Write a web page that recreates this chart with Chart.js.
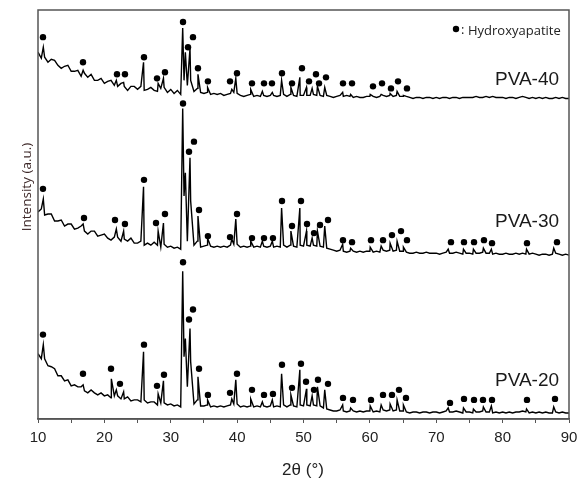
<!DOCTYPE html>
<html>
<head>
<meta charset="utf-8">
<script src="https://cdn.jsdelivr.net/npm/chart.js@4.4.1/dist/chart.umd.min.js"></script>
<style>
  html, body { margin: 0; padding: 0; background: #fff; }
  #wrap { width: 578px; height: 479px; position: relative; }
</style>
</head>
<body>
<div id="wrap"><canvas id="xrd"></canvas></div>
<script>
// XRD patterns, intensity in a.u. (patterns already stacked with offsets)
const baseTheta = [
  10, 10.5, 11, 11.5, 12, 12.5, 13, 13.5, 14, 14.5,
  15, 15.5, 16, 16.5, 17, 17.5, 18, 18.5, 19, 19.5,
  20, 20.5, 21, 21.5, 22, 22.5, 23, 23.5, 24, 24.5,
  25, 25.5, 26, 26.5, 27, 27.5, 28, 28.5, 29, 29.5,
  30, 30.5, 31, 31.5, 32, 32.5, 33, 33.5, 34, 34.5,
  35, 35.5, 36, 36.5, 37, 37.5, 38, 38.5, 39, 39.5,
  40, 40.5, 41, 41.5, 42, 42.5, 43, 43.5, 44, 44.5,
  45, 45.5, 46, 46.5, 47, 47.5, 48, 48.5, 49, 49.5,
  50, 50.5, 51, 51.5, 52, 52.5, 53, 53.5, 54, 54.5,
  55, 55.5, 56, 56.5, 57, 57.5, 58, 58.5, 59, 59.5,
  60, 60.5, 61, 61.5, 62, 62.5, 63, 63.5, 64, 64.5,
  65, 65.5, 66, 66.5, 67, 67.5, 68, 68.5, 69, 69.5,
  70, 70.5, 71, 71.5, 72, 72.5, 73, 73.5, 74, 74.5,
  75, 75.5, 76, 76.5, 77, 77.5, 78, 78.5, 79, 79.5,
  80, 80.5, 81, 81.5, 82, 82.5, 83, 83.5, 84, 84.5,
  85, 85.5, 86, 86.5, 87, 87.5, 88, 88.5, 89, 89.5,
  90
];

const base40 = [
  365, 359, 360, 355, 358, 357, 352, 349, 351, 352,
  346, 346, 347, 341, 344, 340, 343, 337, 337, 339,
  334, 336, 337, 332, 331, 334, 331, 327, 331, 331,
  328, 331, 327, 328, 330, 327, 326, 329, 330, 325,
  328, 324, 327, 323, 337, 332, 337, 326, 329, 325,
  324, 325, 323, 324, 323, 324, 322, 323, 324, 325,
  324, 322, 321, 322, 323, 321, 322, 321, 322, 321,
  322, 322, 321, 322, 323, 321, 323, 322, 321, 322,
  322, 322, 322, 323, 322, 322, 321, 322, 321, 320,
  321, 322, 321, 322, 321, 320, 321, 320, 320, 321,
  321, 321, 320, 321, 322, 321, 322, 321, 322, 321,
  321, 321, 320, 319, 320, 320, 319, 320, 320, 319,
  320, 319, 320, 320, 319, 320, 320, 319, 320, 320,
  320, 320, 321, 320, 320, 321, 320, 321, 320, 320,
  320, 319, 320, 320, 319, 320, 321, 320, 319, 320,
  319, 320, 319, 320, 319, 319, 320, 319, 320, 319,
  319
];

const base30 = [
  206, 209, 203, 204, 204, 197, 197, 198, 192, 194,
  194, 189, 190, 192, 187, 184, 187, 187, 182, 183,
  184, 180, 178, 181, 181, 177, 179, 177, 180, 175,
  175, 177, 173, 175, 173, 176, 173, 171, 174, 171,
  172, 170, 171, 169, 222, 177, 217, 173, 177, 171,
  172, 173, 172, 171, 172, 171, 172, 171, 173, 174,
  174, 171, 172, 171, 172, 171, 172, 171, 172, 171,
  172, 171, 172, 171, 173, 171, 173, 172, 171, 173,
  172, 173, 172, 173, 172, 172, 171, 170, 169, 168,
  167, 168, 167, 166, 167, 167, 166, 167, 166, 167,
  167, 166, 167, 166, 168, 167, 168, 167, 168, 167,
  167, 166, 165, 165, 166, 165, 165, 166, 165, 165,
  165, 164, 165, 166, 165, 165, 166, 165, 164, 165,
  165, 164, 165, 165, 166, 165, 165, 164, 165, 164,
  164, 165, 164, 164, 165, 164, 165, 164, 164, 165,
  164, 163, 164, 164, 163, 164, 165, 164, 163, 164,
  163
];

const base20 = [
  65, 60, 60, 53, 52, 50, 43, 43, 38, 39,
  33, 34, 32, 32, 28, 26, 29, 26, 24, 26,
  23, 24, 21, 23, 23, 20, 20, 22, 18, 19,
  19, 17, 19, 16, 17, 17, 14, 16, 16, 14,
  15, 13, 14, 12, 62, 32, 57, 15, 19, 13,
  13, 14, 12, 13, 12, 13, 12, 13, 14, 15,
  15, 12, 13, 12, 13, 12, 13, 12, 13, 12,
  13, 12, 13, 12, 14, 12, 14, 13, 12, 14,
  13, 14, 13, 14, 13, 13, 11, 10, 9, 8,
  8, 9, 8, 7, 8, 8, 7, 8, 7, 8,
  8, 7, 8, 7, 9, 8, 9, 8, 9, 8,
  8, 7, 6, 7, 7, 6, 7, 7, 6, 7,
  7, 6, 7, 8, 7, 7, 8, 7, 6, 7,
  7, 6, 7, 7, 8, 7, 7, 6, 7, 6,
  7, 6, 7, 6, 7, 7, 8, 7, 6, 7,
  6, 7, 6, 7, 6, 6, 7, 6, 7, 6,
  6
];

// diffraction peak tops (null = no peak in that sample)
const peakTheta = [10.8, 16.8, 21.05, 21.8, 22.9, 25.9, 28.1, 28.9, 31.8, 32.2, 32.9, 34.1, 35.55,
  39.2, 39.8, 42.05, 43.8, 45.3, 46.7, 48.1, 49.45, 50.45, 51.3, 52.1, 53.2, 55.9, 57.1, 60.05,
  61.7, 63.05, 64.1, 65.05, 71.8, 74.1, 75.6, 77.1, 78.3, 83.6, 87.7];
const peak40 = [370, 347, null, 337, 335, 355, 334, 339, 389, 365, 369, 343, 330,
  328, 339, 328, 326, 325, 337, 330, 340, 330, 329, 331, 330, 325, 323, 323,
  323, 324, 326, 322, null, null, null, null, null, null, null];
const peak30 = [219, 194, null, 189, 187, 231, 187, 195, 309, 245, 260, 202, 180,
  179, 199, 177, 177, 177, 210, 187, 210, 187, 180, 187, 192, 174, 170, 171,
  172, 175, 177, 171, 169, 169, 169, 170, 169, 169, 170];
const peak20 = [74, 34, 40, 29, 27, 67, 25, 38, 147, 80, 90, 42, 19,
  20, 39, 20, 17, 19, 45, 24, 49, 30, 23, 32, 29, 14, 11, 13,
  14, 15, 19, 14, 11, 11, 10, 12, 13, 10, 12];

// hydroxyapatite markers
const mark40Theta = [10.75, 16.78, 21.9, 23.1, 25.97, 27.93, 29.13, 31.85, 32.6, 33.35, 34.1, 35.6,
  38.93, 39.98, 42.24, 44.05, 45.25, 46.76, 48.27, 49.77, 50.83, 51.88, 52.34, 53.39, 55.95, 57.31,
  60.47, 61.83, 63.18, 64.24, 65.59];
const mark40 = [380, 355, 343, 343, 360, 339, 345, 395, 370, 380, 349, 336,
  336, 344, 334, 334, 334, 344, 334, 349, 336, 343, 334, 340, 334, 334,
  331, 334, 329, 336, 329];
const mark30Theta = [10.75, 16.93, 21.6, 23.1, 25.97, 27.78, 29.13, 31.85, 32.75, 33.5, 34.26, 35.6,
  38.93, 39.98, 42.24, 44.05, 45.4, 46.76, 48.27, 49.62, 50.53, 51.58, 52.49, 53.69, 55.95, 57.31,
  60.17, 61.98, 63.33, 64.69, 65.59, 72.22, 74.18, 75.69, 77.19, 78.4, 83.67, 88.19];
const mark30 = [229, 200, 198, 194, 238, 195, 204, 314, 266, 276, 208, 182,
  181, 204, 180, 180, 180, 217, 192, 217, 194, 185, 193, 198, 178, 176,
  178, 178, 183, 187, 178, 176, 176, 176, 178, 175, 175, 176];
const mark20Theta = [10.75, 16.78, 21.0, 22.35, 25.97, 27.93, 28.98, 31.85, 32.75, 33.35, 34.26, 35.6,
  38.93, 39.98, 42.24, 44.05, 45.4, 46.76, 48.27, 49.62, 50.38, 51.58, 52.18, 53.69, 55.95, 57.46,
  60.17, 61.98, 63.33, 64.39, 65.44, 72.07, 74.18, 75.69, 77.04, 78.4, 83.67, 87.89];
const mark20 = [84, 45, 50, 35, 74, 33, 44, 156, 99, 109, 50, 24,
  26, 45, 29, 24, 25, 54, 31, 55, 37, 29, 39, 35, 21, 19,
  19, 24, 24, 29, 21, 16, 20, 19, 19, 19, 19, 20];

const sampleNames = ['PVA-40', 'PVA-30', 'PVA-20'];

// merge baseline samples and peak tops into one sorted trace
function buildTrace(base, peaks) {
  const pts = baseTheta.map((t, i) => ({ x: t, y: base[i] }));
  peakTheta.forEach((t, i) => { if (peaks[i] !== null) pts.push({ x: t, y: peaks[i] }); });
  pts.sort((a, b) => a.x - b.x);
  return pts;
}
const toPoints = (xs, ys) => xs.map((x, i) => ({ x: x, y: ys[i] }));

const lineStyle = { type: 'line', borderColor: '#000', borderWidth: 1.4, pointRadius: 0, tension: 0, fill: false };
const dotStyle = { type: 'scatter', backgroundColor: '#000', borderWidth: 0, pointRadius: 3.2, pointHoverRadius: 3.2 };

// frame + free text (labels, legend, axis titles)
const decor = {
  id: 'decor',
  afterDraw(chart) {
    const c = chart.ctx, a = chart.chartArea;
    c.save();
    c.strokeStyle = '#555';
    c.lineWidth = 1.5;
    c.strokeRect(a.left, a.top, a.right - a.left, a.bottom - a.top);

    c.fillStyle = '#1a1a1a';
    c.font = '19px "Liberation Sans", Arial, sans-serif';
    c.textAlign = 'left';
    c.textBaseline = 'middle';
    c.fillText(sampleNames[0], 495, 80);
    c.fillText(sampleNames[1], 495, 222);
    c.fillText(sampleNames[2], 495, 381);

    c.beginPath();
    c.arc(456, 29, 3.2, 0, Math.PI * 2);
    c.fillStyle = '#000';
    c.fill();
    c.fillStyle = '#222';
    c.font = '13px "Open Sans", sans-serif';
    c.fillText(':', 461, 30);
    c.fillText('Hydroxyapatite', 468, 31);

    c.textAlign = 'center';
    c.font = '17px "Liberation Sans", Arial, sans-serif';
    c.fillText('2θ (°)', 303, 470);

    c.translate(27, 187);
    c.rotate(-Math.PI / 2);
    c.fillStyle = '#3d2828';
    c.font = '13.5px "Open Sans", sans-serif';
    c.fillText('Intensity (a.u.)', 0, 0);
    c.restore();
  }
};

new Chart(document.getElementById('xrd'), {
  data: {
    datasets: [
      Object.assign({ label: sampleNames[0], data: buildTrace(base40, peak40) }, lineStyle),
      Object.assign({ label: sampleNames[1], data: buildTrace(base30, peak30) }, lineStyle),
      Object.assign({ label: sampleNames[2], data: buildTrace(base20, peak20) }, lineStyle),
      Object.assign({ label: 'HA 40', data: toPoints(mark40Theta, mark40) }, dotStyle),
      Object.assign({ label: 'HA 30', data: toPoints(mark30Theta, mark30) }, dotStyle),
      Object.assign({ label: 'HA 20', data: toPoints(mark20Theta, mark20) }, dotStyle)
    ]
  },
  options: {
    responsive: true,
    maintainAspectRatio: false,
    animation: false,
    layout: { padding: { left: 38, right: 9, top: 10, bottom: 26 } },
    plugins: { legend: { display: false }, tooltip: { enabled: false } },
    scales: {
      x: {
        type: 'linear', min: 10, max: 90,
        afterFit: s => { s.paddingRight = 0; s.paddingLeft = 0; },
        grid: { display: true, drawOnChartArea: false, drawTicks: true, tickLength: 4, color: '#555' },
        border: { display: true, color: '#555', width: 1.5 },
        ticks: {
          stepSize: 5, autoSkip: false, maxRotation: 0, padding: 6,
          color: '#222', font: { family: '"Liberation Sans", Arial, sans-serif', size: 15 },
          callback: v => (v % 10 === 0 ? v : '')
        }
      },
      y: { type: 'linear', min: 0, max: 407, display: false }
    }
  },
  plugins: [decor]
});
</script>
</body>
</html>
